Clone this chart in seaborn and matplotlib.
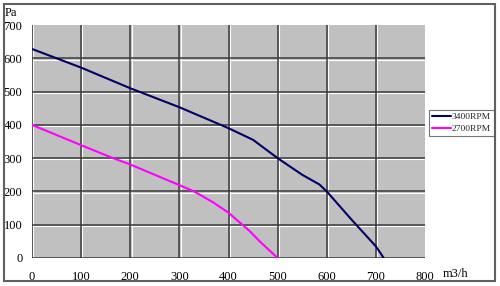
import matplotlib
matplotlib.use("Agg")
import matplotlib.pyplot as plt
import matplotlib.transforms as mtransforms
from matplotlib.patches import Rectangle
import seaborn as sns
import pandas as pd

# ---- data ----
flow_3400 = [0, 100, 200, 300, 400, 450, 500, 550, 585, 600, 650, 700, 716]
pres_3400 = [628, 572, 510, 453, 390, 355, 300, 250, 221, 200, 116, 35, 0]
flow_2700 = [0, 100, 165, 200, 300, 330, 370, 400, 443, 465, 500]
pres_2700 = [400, 339, 300, 281, 219, 200, 166, 136, 81, 48, 0]
series_names = ["3400RPM", "2700RPM"]
x_ticks = [0, 100, 200, 300, 400, 500, 600, 700, 800]
y_ticks = [0, 100, 200, 300, 400, 500, 600, 700]

df = pd.concat([
    pd.DataFrame({"flow": flow_3400, "pres": pres_3400, "curve": series_names[0]}),
    pd.DataFrame({"flow": flow_2700, "pres": pres_2700, "curve": series_names[1]}),
])

sns.set_theme(style="white")
plt.rcParams["font.family"] = ["Liberation Serif", "DejaVu Serif"]

fig = plt.figure(figsize=(5.0, 2.86), dpi=100)
ax = fig.add_axes([32 / 500, 1 - 258 / 286, (425 - 32) / 500, (258 - 25) / 286])
ax.set_facecolor("#c0c0c0")

# grid with embossed effect
xoff = mtransforms.offset_copy(ax.get_xaxis_transform(), fig=fig, x=1.3, y=0, units="dots")
yoff = mtransforms.offset_copy(ax.get_yaxis_transform(), fig=fig, x=0, y=-1.3, units="dots")
for xv in x_ticks[:-1]:
    ax.axvline(xv, color="#3a3a3a", lw=1.1, zorder=1)
    ax.plot([xv, xv], [0, 1], color="white", lw=0.8, zorder=0.9, transform=xoff)
for yv in y_ticks[:-1]:
    ax.axhline(yv, color="#3a3a3a", lw=1.1, zorder=1)
    ax.plot([0, 1], [yv, yv], color="white", lw=0.8, zorder=0.9, transform=yoff)

sns.lineplot(data=df, x="flow", y="pres", hue="curve", hue_order=series_names,
             palette=["#000066", "#ff00ff"], linewidth=1.5, ax=ax, legend=True,
             sort=False, zorder=3)

ax.set_xlim(0, 800)
ax.set_ylim(0, 700)
ax.set_xticks(x_ticks)
ax.set_yticks(y_ticks)
ax.tick_params(axis="both", length=0, labelsize=9, colors="#000000")
ax.tick_params(axis="x", pad=9)
ax.tick_params(axis="y", pad=7)
for s in ax.spines.values():
    s.set_visible(False)
ax.set_xlabel("")
ax.set_ylabel("")

fig.text(5 / 500, 1 - 13 / 286, "Pa", fontsize=9, va="center", ha="left", color="#000000")
fig.text(443 / 500, 1 - 274 / 286, "m3/h", fontsize=9, va="center", ha="left", color="#000000")

leg = ax.legend(loc="upper left", bbox_to_anchor=(429 / 500, 1 - 110 / 286),
                bbox_transform=fig.transFigure, fontsize=6.8, frameon=True,
                fancybox=False, borderpad=0.3, handlelength=2.0, handletextpad=0.1,
                labelspacing=0.3, borderaxespad=0)
leg.get_frame().set_edgecolor("#555555")
leg.get_frame().set_linewidth(0.8)
for ln in leg.get_lines():
    ln.set_linewidth(1.5)

fig.patches.append(Rectangle((3.5 / 500, 1 - 281 / 286), 491.5 / 500, 277.5 / 286,
                             transform=fig.transFigure, fill=False,
                             edgecolor="#606060", linewidth=1.5))

fig.savefig("out.png", dpi=100)
